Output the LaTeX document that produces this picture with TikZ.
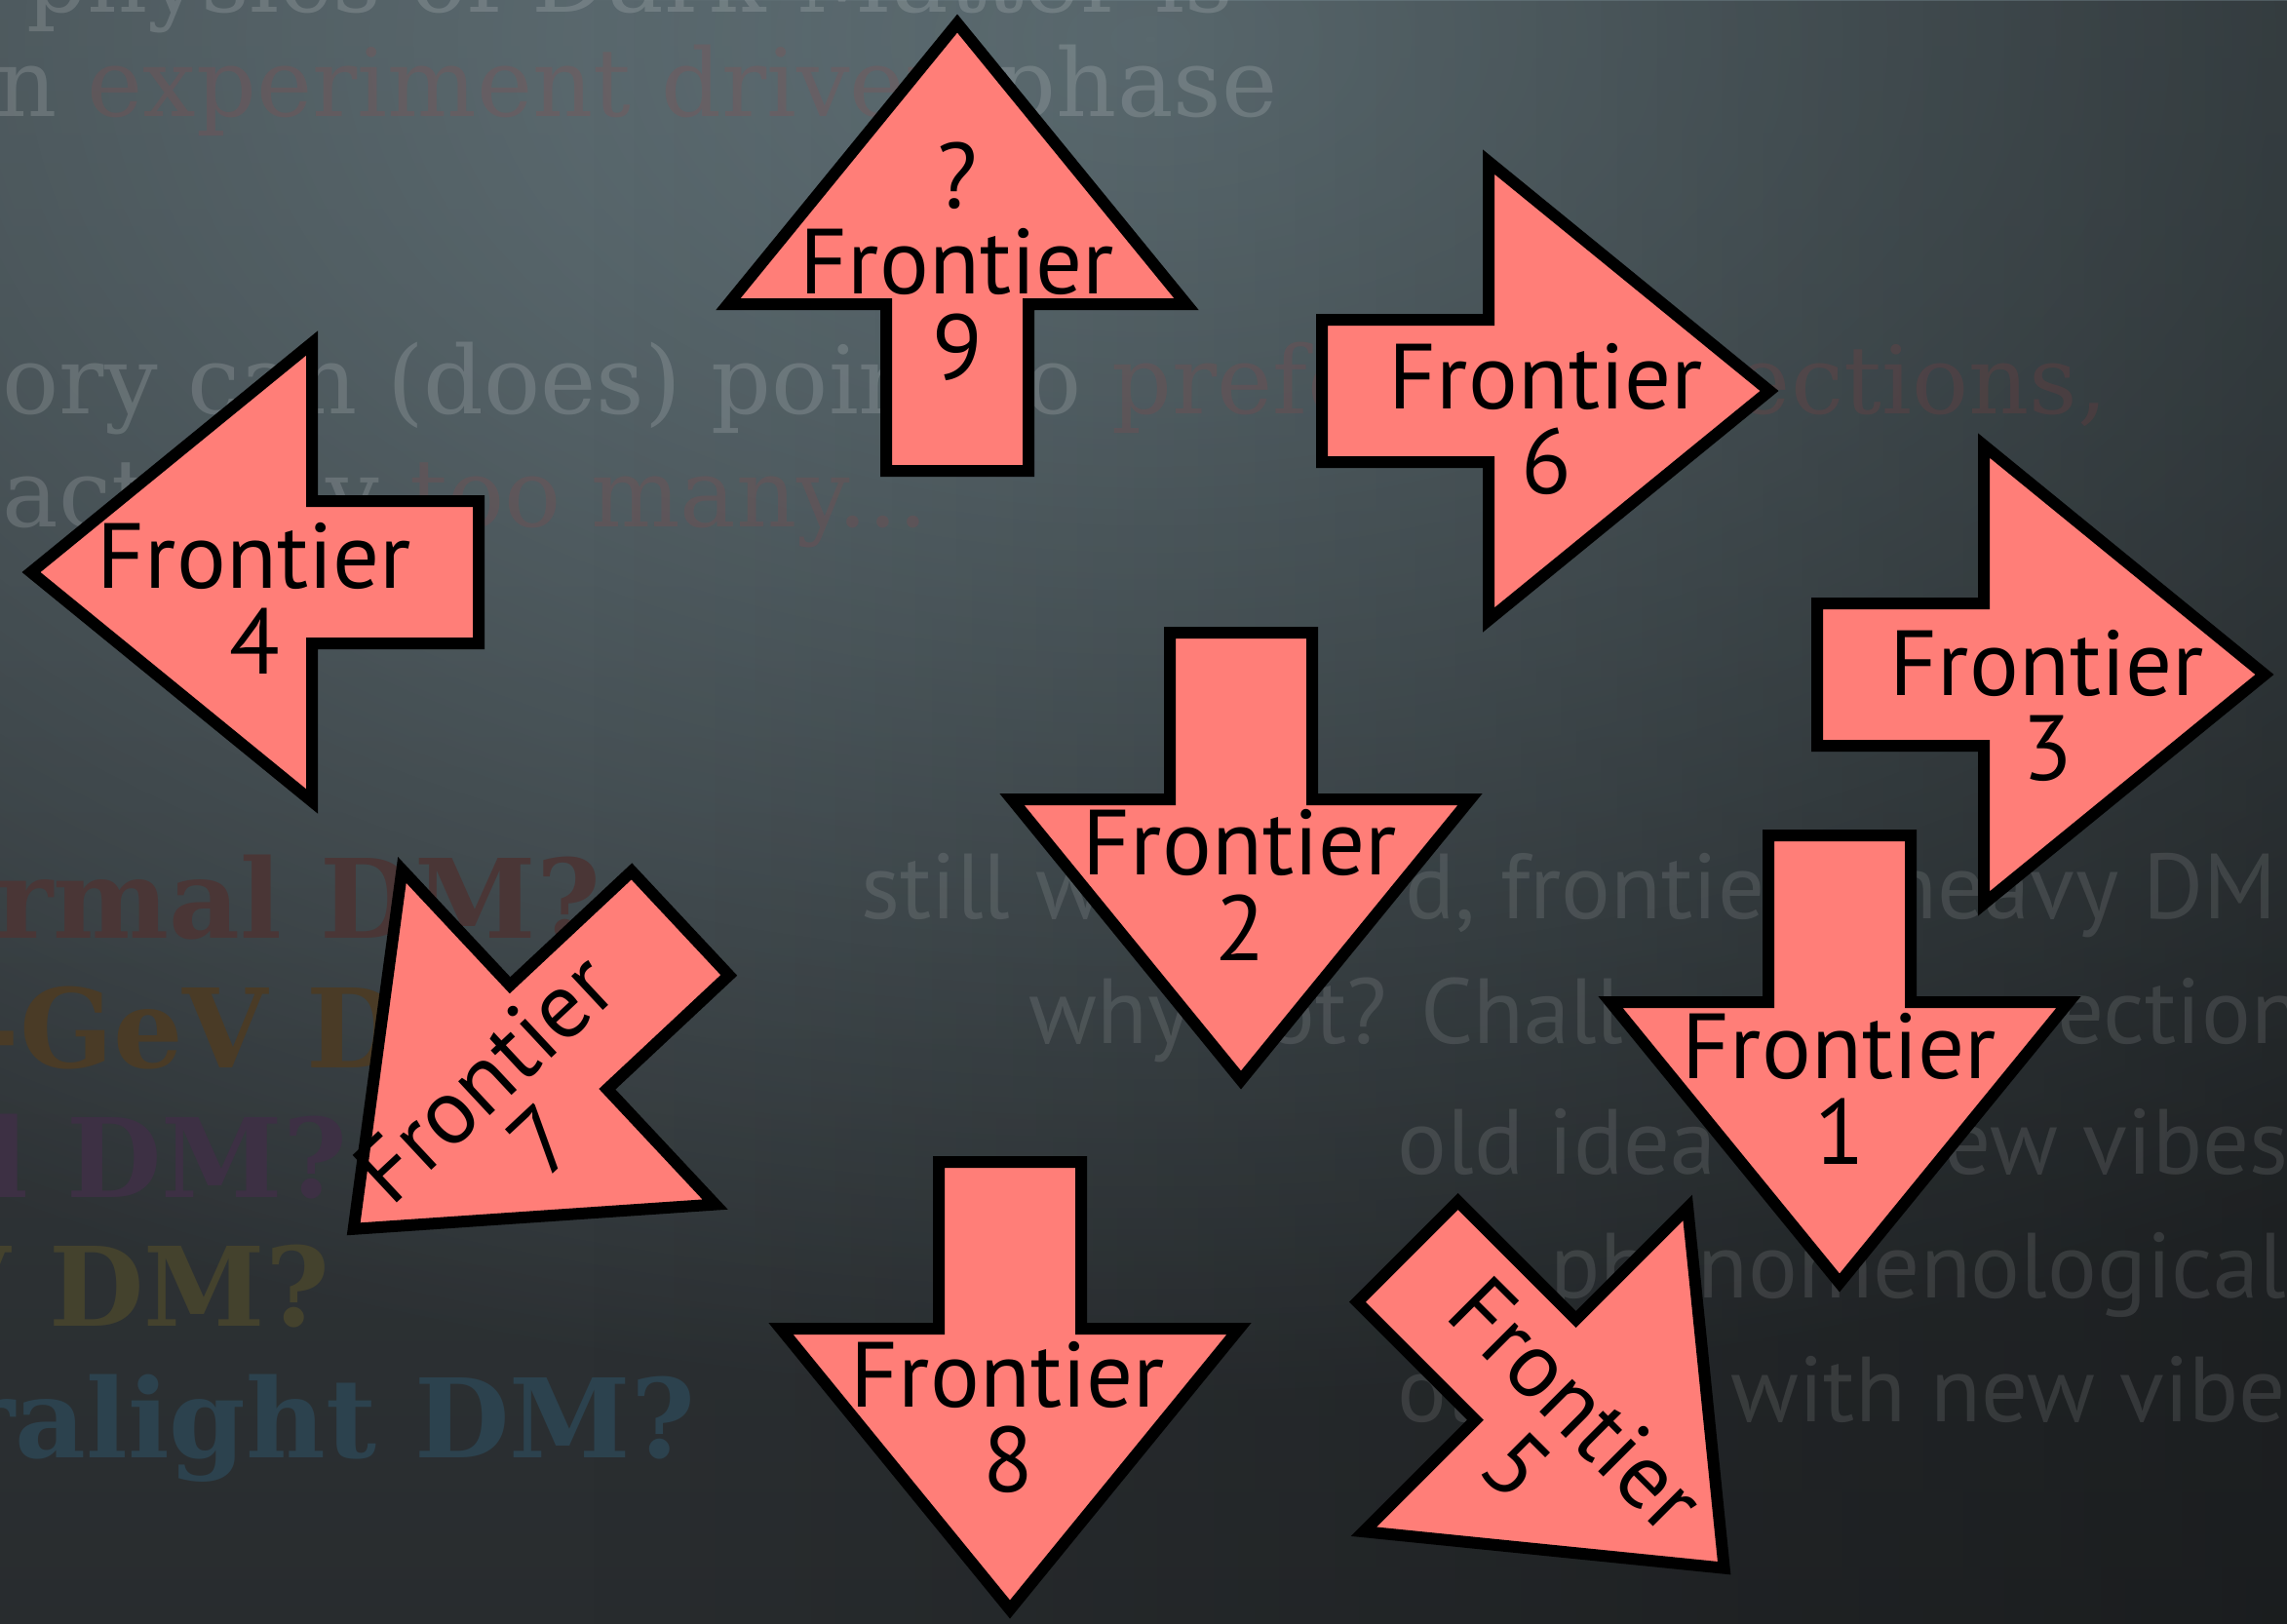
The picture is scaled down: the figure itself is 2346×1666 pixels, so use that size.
\documentclass[tikz,border=0pt]{standalone}
\usepackage{fontspec}
\setmainfont{PT Sans}
\newfontfamily\typefont{DejaVu Serif}
\newfontfamily\handfont{PT Sans}
\usetikzlibrary{fadings}

\definecolor{bgtop}{HTML}{434C50}
\definecolor{bgbottom}{HTML}{1F2123}
\definecolor{glow}{HTML}{64757B}
\definecolor{arrowfill}{HTML}{FF7E78}
\definecolor{ghostred}{HTML}{B83C3C}
\definecolor{dmred}{HTML}{4A3636}
\definecolor{dmorange}{HTML}{4A3B26}
\definecolor{dmpurple}{HTML}{3D3044}
\definecolor{dmolive}{HTML}{44422D}
\definecolor{dmteal}{HTML}{2C424E}

\tikzfading[name=glowfade, inner color=transparent!0, outer color=transparent!100]
\tikzfading[name=rightfade, left color=transparent!100, right color=transparent!0]

\tikzset{
  arrowbody/.style={fill=arrowfill, draw=black, line width=1.2mm, line join=miter, miter limit=10},
  frontierarrow/.pic={
    \path[arrowbody] (-171,73) -- (0,73) -- (0,235) -- (288,0) -- (0,-235)
      -- (0,-73) -- (-171,-73) -- cycle;
  },
  frontlabel/.style={font=\fontsize{27pt}{25pt}\selectfont, align=center,
    inner sep=0pt, text=black},
  typetext/.style={font=\typefont\fontsize{27.5pt}{30pt}\selectfont, inner sep=0pt,
    anchor=base west, text=white, text opacity=0.15},
  dmtext/.style={font=\typefont\bfseries\fontsize{32pt}{34pt}\selectfont, inner sep=0pt},
  handtext/.style={font=\handfont\fontsize{27pt}{30pt}\selectfont, inner sep=0pt,
    anchor=base west, text=white, text opacity=0.11},
}

\begin{document}
\begin{tikzpicture}[x=0.1mm, y=-0.1mm]
  \useasboundingbox (0,0) rectangle (2346,1666);

  % slide background: dark vertical gradient, bluish glow at the top, darker right side
  \begin{scope}
    \clip (0,0) rectangle (2346,1666);
    \shade[top color=bgtop, bottom color=bgbottom] (0,-833) rectangle (2346,2499);
    \fill[glow, path fading=glowfade] (1180,40) ellipse [x radius=2300, y radius=1400];
    \fill[black, opacity=0.4, path fading=rightfade] (600,0) rectangle (2700,1666);
  \end{scope}

  % faded text of the slide underneath
  \node[typetext] (t1) at (27,12) {physics of Dark Matter is};
  \node[typetext] (t2) at (-4,119) {n {\color{ghostred}experiment driven} phase};
  \node[typetext] (t3) at (2,424) {ory can (does) point to {\color{ghostred}preferred directions,}};
  \node[typetext] (t4) at (2,540) {actually {\color{ghostred}too many...}};

  \node[dmtext, text=dmred, anchor=base east] (d1) at (617,962) {rmal DM?};
  \node[dmtext, text=dmorange, anchor=base west] (d2) at (-27,1095) {-GeV DM?};
  \node[dmtext, text=dmpurple, anchor=base east] (d3) at (357,1228) {l DM?};
  \node[dmtext, text=dmolive, anchor=base east] (d4) at (339,1360) {V DM?};
  \node[dmtext, text=dmteal, anchor=base east] (d5) at (714,1495) {ralight DM?};

  \node[handtext] (h1) at (883,942) {still w};
  \node[handtext] (h2) at (1441,942) {d, frontie};
  \node[handtext] (h3) at (1935,942) {heavy DM};
  \node[handtext] (h4) at (1055,1070) {why not? Chall};
  \node[handtext] (h5) at (2110,1070) {ection};
  \node[handtext] (h6) at (1433,1204) {old idea};
  \node[handtext] (h7) at (1994,1204) {ew vibes};
  \node[handtext, anchor=base east] (h8) at (2346,1331) {phenomenological};
  \node[handtext] (h9) at (1433,1458) {old idea};
  \node[handtext] (h10) at (1775,1458) {with new vibes};

  % the nine frontier arrows
  \pic[rotate=90]    at (982,312)   {frontierarrow};
  \pic[rotate=180]   at (320,587)   {frontierarrow};
  \pic[rotate=0]     at (1527,401)  {frontierarrow};
  \pic[rotate=0]     at (2035,692)  {frontierarrow};
  \pic[rotate=-90]   at (1273,820)  {frontierarrow};
  \pic[rotate=-90]   at (1887,1028) {frontierarrow};
  \pic[rotate=-90]   at (1036,1363) {frontierarrow};
  \pic[rotate=223.1] at (573,1064)  {frontierarrow};
  \pic[rotate=-45]   at (1565,1405) {frontierarrow};

  % arrow labels
  \node[frontlabel] (f9) at (982,268)  {?\\Frontier\\9};
  \node[frontlabel] (f4) at (261,614)  {Frontier\\4};
  \node[frontlabel] (f6) at (1586,430) {Frontier\\6};
  \node[frontlabel] (f3) at (2100,724) {Frontier\\3};
  \node[frontlabel] (f2) at (1272,908) {Frontier\\2};
  \node[frontlabel] (f1) at (1887,1117) {Frontier\\1};
  \node[frontlabel] (f8) at (1034,1454) {Frontier\\8};
  \node[frontlabel, rotate=43]  (f7) at (526,1137)  {Frontier\\7};
  \node[frontlabel, rotate=-45] (f5) at (1587,1472) {Frontier\\5};
\end{tikzpicture}
\end{document}
